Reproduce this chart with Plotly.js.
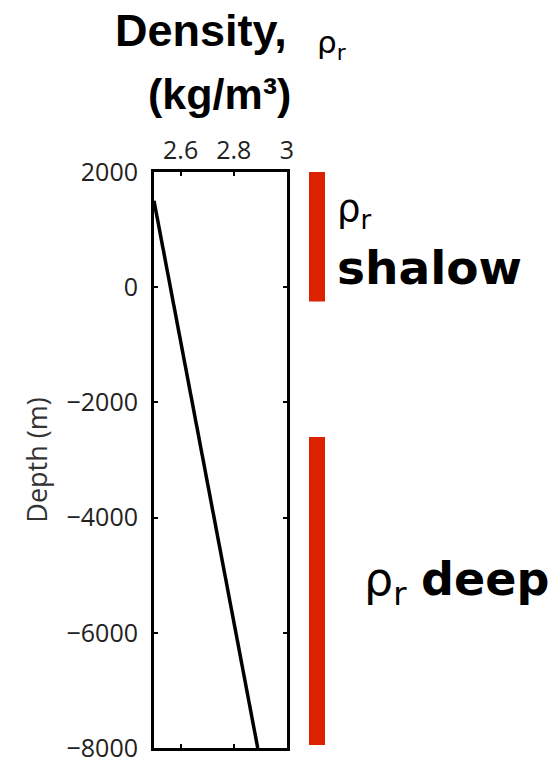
<!DOCTYPE html>
<html>
<head>
<meta charset="utf-8">
<script src="https://cdn.plot.ly/plotly-3.0.1.min.js"></script>
<style>html,body{margin:0;padding:0;background:#fff;}#chart{width:552px;height:764px;}</style>
</head>
<body>
<div id="chart"></div>
<script>
// Data
const density = [2.5, 2.89];          // g/cm^3 (axis labelled kg/m^3)
const depth = [1500, -8000];          // m
const xTickVals = [2.6, 2.8, 3];
const xTickText = ["2.6", "2.8", "3"];
const yTickVals = [-8000, -6000, -4000, -2000, 0, 2000];
const shallowRange = [2000, -250];    // depth span of red "shallow" bar
const deepRange = [-2600, -7950];     // depth span of red "deep" bar

// plot-area pixel geometry helpers (for annotations placed outside the axes)
const L = 154, R = 287, T = 172, B = 748;
const px = x => (x - L) / (R - L);
const py = y => (B - y) / (B - T);

const trace = {
  x: density, y: depth, type: 'scatter', mode: 'lines',
  line: {color: '#000', width: 3.5}, hoverinfo: 'skip', showlegend: false
};

const tickFont = {family: 'Open Sans, DejaVu Sans, sans-serif', size: 25, color: '#222'};
const barColor = '#dd2200';

const layout = {
  width: 552, height: 764,
  margin: {l: L, r: 552 - R, t: T, b: 764 - B},
  paper_bgcolor: '#fff', plot_bgcolor: '#fff',
  showlegend: false,
  xaxis: {
    side: 'top', range: [2.5, 3], tickvals: xTickVals, ticktext: xTickText,
    ticks: 'inside', ticklen: 4, tickwidth: 2, tickcolor: '#000',
    showline: true, linewidth: 3, linecolor: '#000', mirror: 'ticks',
    showgrid: false, zeroline: false, tickfont: tickFont, fixedrange: true
  },
  yaxis: {
    range: [-8000, 2000], tickvals: yTickVals,
    ticks: 'inside', ticklen: 4, tickwidth: 2, tickcolor: '#000',
    showline: true, linewidth: 3, linecolor: '#000', mirror: 'ticks',
    showgrid: false, zeroline: false, tickfont: tickFont, fixedrange: true,
    ticklabelstandoff: 8,
    title: {text: 'Depth (m)', font: {family: 'Open Sans, DejaVu Sans, sans-serif', size: 27, color: '#333'}, standoff: 12}
  },
  shapes: [
    {type: 'rect', xref: 'paper', yref: 'y', x0: px(309), x1: px(325), y0: shallowRange[1], y1: shallowRange[0],
     fillcolor: barColor, line: {width: 0}, layer: 'above'},
    {type: 'rect', xref: 'paper', yref: 'y', x0: px(309), x1: px(325), y0: deepRange[1], y1: deepRange[0],
     fillcolor: barColor, line: {width: 0}, layer: 'above'}
  ],
  annotations: [
    {text: '<b>Density,</b>', xref: 'paper', yref: 'paper', x: px(113), y: py(30), xanchor: 'left', yanchor: 'middle',
     showarrow: false, font: {family: 'Liberation Sans, Arial, sans-serif', size: 45, color: '#000'}},
    {text: 'ρ<sub>r</sub>', xref: 'paper', yref: 'paper', x: px(315), y: py(45), xanchor: 'left', yanchor: 'middle',
     showarrow: false, font: {family: 'DejaVu Sans, sans-serif', size: 31, color: '#000'}},
    {text: '<b>(kg/m³)</b>', xref: 'paper', yref: 'paper', x: px(219), y: py(94), xanchor: 'center', yanchor: 'middle',
     showarrow: false, font: {family: 'Liberation Sans, Arial, sans-serif', size: 43, color: '#000'}},
    {text: 'ρ<sub>r</sub>', xref: 'paper', yref: 'paper', x: px(335), y: py(211), xanchor: 'left', yanchor: 'middle',
     showarrow: false, font: {family: 'DejaVu Sans, sans-serif', size: 37, color: '#000'}},
    {text: '<b>shalow</b>', xref: 'paper', yref: 'paper', x: px(335), y: py(267), xanchor: 'left', yanchor: 'middle',
     showarrow: false, font: {family: 'DejaVu Sans, sans-serif', size: 47, color: '#000'}},
    {text: 'ρ<sub>r</sub> <b>deep</b>', xref: 'paper', yref: 'paper', x: px(362), y: py(582), xanchor: 'left', yanchor: 'middle',
     showarrow: false, font: {family: 'DejaVu Sans, sans-serif', size: 46, color: '#000'}}
  ]
};

Plotly.newPlot('chart', [trace], layout, {displayModeBar: false, staticPlot: true});
</script>
</body>
</html>
